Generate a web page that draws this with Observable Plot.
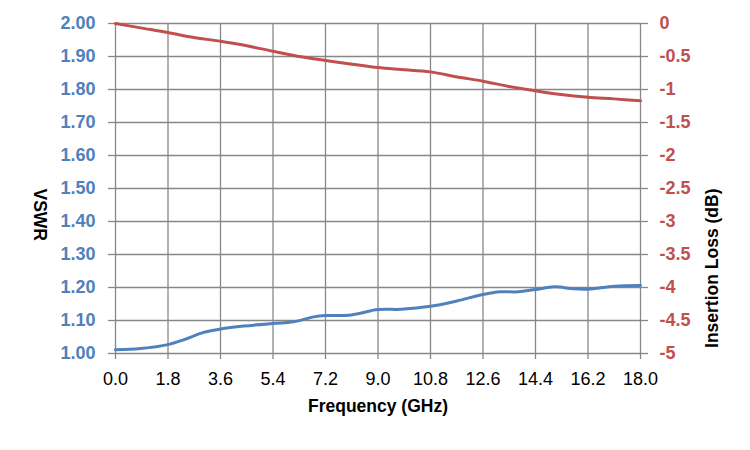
<!DOCTYPE html>
<html>
<head>
<meta charset="utf-8">
<script src="https://cdn.jsdelivr.net/npm/d3@7"></script>
<script src="https://cdn.jsdelivr.net/npm/@observablehq/plot@0.6"></script>
<style>
  html, body { margin: 0; padding: 0; background: #fff; }
  #chart { width: 750px; height: 450px; }
</style>
</head>
<body>
<div id="chart"></div>
<script>
// VSWR series (left axis)
const vswrFreq = [0, 0.86, 1.8, 2.35, 3.02, 3.6, 4.4, 5.4, 6.1, 6.8, 7.2, 8.08, 9.0, 9.8, 10.8, 11.7, 12.6, 13.2, 13.8, 14.4, 15.05, 15.7, 16.2, 17.1, 18.0];
const vswrValues = [1.011, 1.015, 1.027, 1.042, 1.064, 1.074, 1.083, 1.091, 1.096, 1.111, 1.115, 1.117, 1.133, 1.134, 1.143, 1.159, 1.179, 1.187, 1.187, 1.194, 1.202, 1.196, 1.195, 1.204, 1.206];

// Insertion loss series (right axis, dB)
const lossFreq = [0, 0.86, 1.8, 2.69, 3.6, 4.28, 5.4, 6.36, 7.2, 8.18, 9.0, 9.79, 10.8, 11.73, 12.6, 13.44, 14.4, 15.28, 16.2, 17.1, 18.0];
const lossValues = [0, -0.066, -0.137, -0.212, -0.268, -0.318, -0.42, -0.505, -0.56, -0.62, -0.667, -0.697, -0.733, -0.81, -0.874, -0.95, -1.02, -1.076, -1.117, -1.142, -1.172];

// Tick labels
const xTicks = [0, 1.8, 3.6, 5.4, 7.2, 9.0, 10.8, 12.6, 14.4, 16.2, 18.0];
const vswrTicks = [1.0, 1.1, 1.2, 1.3, 1.4, 1.5, 1.6, 1.7, 1.8, 1.9, 2.0];
const lossTicks = [0, -0.5, -1, -1.5, -2, -2.5, -3, -3.5, -4, -4.5, -5];

// Map loss (0..-5) onto the VSWR scale (2..1)
const lossToY = v => 2 + v / 5;
const yToLoss = y => Math.round((y - 2) * 5 * 10) / 10;

const vswrData = vswrFreq.map((f, i) => ({f, v: vswrValues[i]}));
const lossData = lossFreq.map((f, i) => ({f, v: lossToY(lossValues[i])}));

const grid = "#878787";
const blue = "#4F81BD";
const red = "#C0504D";
const font = "'Liberation Sans', Arial, sans-serif";

const chart = Plot.plot({
  width: 750,
  height: 450,
  marginLeft: 115,
  marginRight: 110,
  marginTop: 23,
  marginBottom: 97,
  style: {fontFamily: font, background: "#fff", overflow: "visible"},
  x: {domain: [0, 18]},
  y: {domain: [1, 2]},
  marks: [
    Plot.gridX(xTicks, {stroke: grid, strokeOpacity: 1, strokeWidth: 1.3}),
    Plot.gridY(vswrTicks, {stroke: grid, strokeOpacity: 1, strokeWidth: 1.3}),
    Plot.axisX({ticks: xTicks, tickFormat: d => d.toFixed(1), tickSize: 6, tickPadding: 13,
      stroke: grid, strokeWidth: 1.3, fill: "#000", fontSize: 18, fontFamily: font, label: null}),
    Plot.axisY({anchor: "left", ticks: vswrTicks, tickFormat: d => d.toFixed(2), tickSize: 7, tickPadding: 13,
      stroke: grid, strokeWidth: 1.3, fill: blue, fontSize: 18, fontWeight: "bold", fontFamily: font, label: null}),
    Plot.axisY({anchor: "right", ticks: lossTicks.map(lossToY), tickFormat: d => String(yToLoss(d)), tickSize: 7, tickPadding: 12,
      stroke: grid, strokeWidth: 1.3, fill: red, fontSize: 18, fontWeight: "bold", fontFamily: font, label: null}),
    Plot.line(lossData, {x: "f", y: "v", stroke: red, strokeWidth: 3, curve: "catmull-rom"}),
    Plot.line(vswrData, {x: "f", y: "v", stroke: blue, strokeWidth: 3, curve: "catmull-rom"}),
    Plot.text(["VSWR"], {frameAnchor: "left", dx: -76, rotate: 90, fontSize: 17.5, fontWeight: "bold", fill: "#000", fontFamily: font}),
    Plot.text(["Insertion Loss (dB)"], {frameAnchor: "right", dx: 72, rotate: -90, fontSize: 17.5, fontWeight: "bold", fill: "#000", fontFamily: font}),
    Plot.text(["Frequency (GHz)"], {frameAnchor: "bottom", dy: 58, fontSize: 17.5, fontWeight: "bold", fill: "#000", fontFamily: font})
  ]
});
document.getElementById("chart").appendChild(chart);
</script>
</body>
</html>
